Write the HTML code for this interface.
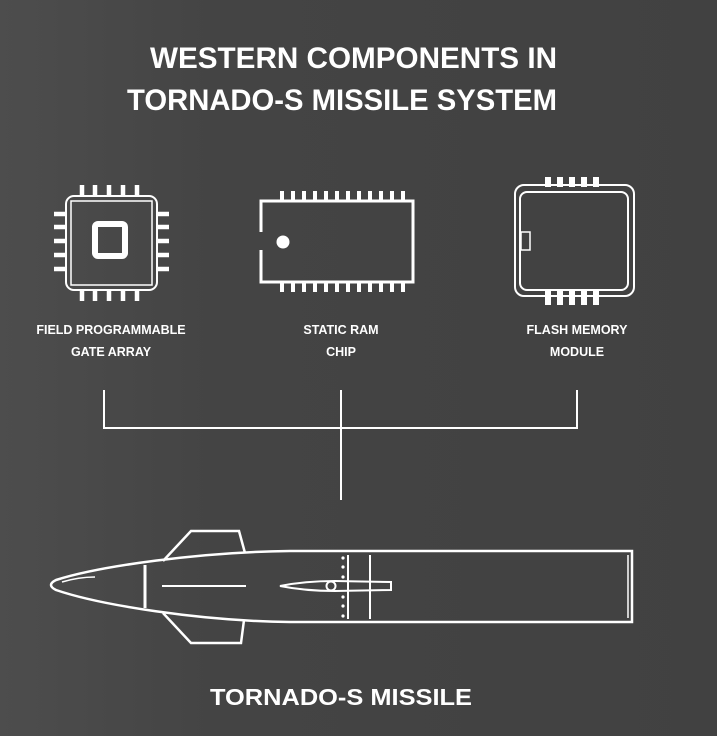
<!DOCTYPE html>
<html><head><meta charset="utf-8"><style>
html,body{margin:0;padding:0;width:717px;height:736px;overflow:hidden;background:#434343}
svg{display:block}
text{font-family:"Liberation Sans",sans-serif;font-weight:bold;fill:#fff}
</style></head><body>
<svg width="717" height="736" viewBox="0 0 717 736">
<defs><linearGradient id="bg" x1="0" y1="0" x2="1" y2="0">
<stop offset="0" stop-color="#4d4d4d"/><stop offset="0.3" stop-color="#444"/><stop offset="1" stop-color="#414141"/></linearGradient></defs>
<rect width="717" height="736" fill="url(#bg)"/>
<text x="150" y="68" font-size="30" textLength="407" lengthAdjust="spacingAndGlyphs">WESTERN COMPONENTS IN</text>
<text x="127" y="110" font-size="30" textLength="430" lengthAdjust="spacingAndGlyphs">TORNADO-S MISSILE SYSTEM</text>
<g fill="none" stroke="#fff">
<rect x="66" y="196" width="91" height="94" rx="8" stroke-width="2"/>
<rect x="71" y="201" width="81" height="84" stroke-width="1.5"/>
<rect x="95" y="224" width="30" height="32" rx="3" stroke-width="6"/>
<g stroke-width="4.5">
<path d="M82 185v11M95 185v11M109 185v11M123 185v11M137 185v11"/>
<path d="M82 290v11M95 290v11M109 290v11M123 290v11M137 290v11"/>
<path d="M54 214h12M54 227h12M54 241h12M54 255h12M54 269h12"/>
<path d="M157 214h12M157 227h12M157 241h12M157 255h12M157 269h12"/>
</g>
<path d="M261 232V201H413V282H261V250" stroke-width="3"/>
<g stroke-width="4">
<path d="M282 191v10M293 191v10M304 191v10M315 191v10M326 191v10M337 191v10M348 191v10M359 191v10M370 191v10M381 191v10M392 191v10M403 191v10"/>
<path d="M282 282v10M293 282v10M304 282v10M315 282v10M326 282v10M337 282v10M348 282v10M359 282v10M370 282v10M381 282v10M392 282v10M403 282v10"/>
</g>
<rect x="515" y="185" width="119" height="111" rx="9" stroke-width="2"/>
<rect x="520" y="192" width="108" height="98" rx="7" stroke-width="2"/>
<rect x="521" y="232" width="9" height="18" stroke-width="1.5"/>
<g stroke-width="6">
<path d="M548 177v10M560 177v10M572 177v10M584 177v10M596 177v10"/>
<path d="M548 290v15M560 290v15M572 290v15M584 290v15M596 290v15"/>
</g>
<path d="M104 390V428H577V390M341 390V500" stroke-width="2"/>
<path d="M163 561L191 531H239L245 553" stroke-width="2.5"/>
<path d="M163 613L191 643H241L244 620" stroke-width="2.5"/>
<path d="M632 551H290C200 552 100 566 56 580Q46 585 56 590C100 605 200 621 290 622H632Z" stroke-width="2.5"/>
<path d="M628 555V618" stroke-width="1.5"/>
<path d="M62 582C72 579 85 577 95 577" stroke-width="1.5"/>
<path d="M145 565V608" stroke-width="3"/>
<path d="M162 586H246" stroke-width="2"/>
<path d="M280 586C300 582 320 581 335 581L391 582V590L335 591C320 591 300 590 280 586Z" stroke-width="2"/>
<circle cx="331" cy="586" r="4.5" stroke-width="2"/>
<path d="M348 555V619M370 555V619" stroke-width="2"/>
</g>
<g fill="#fff"><circle cx="283" cy="242" r="6.5"/>
<circle cx="343" cy="558" r="1.6"/><circle cx="343" cy="567" r="1.6"/><circle cx="343" cy="577" r="1.6"/>
<circle cx="343" cy="597" r="1.6"/><circle cx="343" cy="606" r="1.6"/><circle cx="343" cy="616" r="1.6"/></g>
<g font-size="12.5" text-anchor="middle">
<text x="111" y="334">FIELD PROGRAMMABLE</text><text x="111" y="356">GATE ARRAY</text>
<text x="341" y="334">STATIC RAM</text><text x="341" y="356">CHIP</text>
<text x="577" y="334">FLASH MEMORY</text><text x="577" y="356">MODULE</text>
</g>
<text x="341" y="705" font-size="23" text-anchor="middle" textLength="262" lengthAdjust="spacingAndGlyphs">TORNADO-S MISSILE</text>
</svg>
</body></html>
